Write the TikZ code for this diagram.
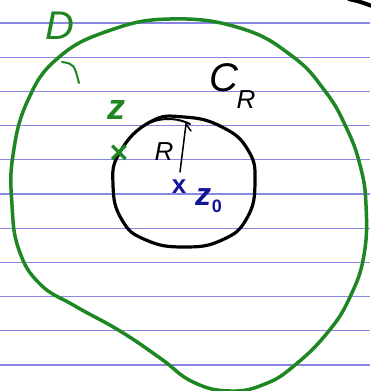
\documentclass[tikz,border=0pt]{standalone}
\usepackage{fontspec}
\setmainfont{Liberation Sans}
\definecolor{penGreen}{RGB}{30,135,35}
\definecolor{penBlue}{RGB}{20,20,150}
\definecolor{ruleBlue}{RGB}{135,135,225}
\tikzset{
  ruling/.style={ruleBlue, line width=1.2pt},
  greenpen/.style={penGreen, line width=3.5pt, line cap=round, line join=round},
  blackpen/.style={black, line width=3.2pt, line cap=round, line join=round},
  thinpen/.style={black, line width=1.5pt, line cap=round},
  lbl/.style={inner sep=0pt, font=\fontsize{40}{40}\selectfont\itshape}
}
\begin{document}
\begin{tikzpicture}[x=1pt,y=-1pt]
\useasboundingbox (0,0) rectangle (370,391);
\fill[white] (0,0) rectangle (370,391);
% ruled lines
\foreach \yy in {23,57.2,91.4,125.6,159.8,194,228.2,262.4,296.6,330.8,365}
  \draw[ruling] (0,\yy) -- (370,\yy);
% black fragment at top right corner
\draw[black, line width=4pt] (348,-1) .. controls (358,1) .. (372,6);
% outer region D
\draw[greenpen] plot[smooth cycle, tension=0.75] coordinates {
  (170,19) (240,28) (292,56) (325,91) (346,127) (360,165) (366,205)
  (364,255) (350,297) (328,332) (295,365) (265,384) (230,391) (193,382)
  (160,358) (120,331) (75,306) (40,284) (19,250) (12,205) (13,155)
  (28,100) (58,58) (108,31)};
% small tick on D boundary
\draw[greenpen, line width=2pt] (62,62) .. controls (74,64) .. (79,83);
% inner circle C_R
\draw[blackpen] plot[smooth cycle, tension=0.8] coordinates {
  (150,122) (184,117) (222,127) (248,150) (255,182) (247,218) (222,240)
  (184,247) (146,240) (122,220) (113,185) (120,152)};
\draw[blackpen, line width=2pt] (143,126) .. controls (160,116) and (178,118) .. (190,124);
% radius
\draw[thinpen] (180,172) -- (186,124) -- (191,131);
% labels
\node[lbl, penGreen] (labD) at (60,26) {D};
\node[lbl, black] (labC) at (224,78) {C};
\node[lbl, black, font=\fontsize{26}{26}\selectfont\itshape] (labCR) at (246,100) {R};
\node[lbl, black, font=\fontsize{26}{26}\selectfont\itshape] (labR) at (164,152) {R};
\node[lbl, penGreen, font=\fontsize{36}{36}\selectfont\bfseries\itshape] (labz) at (116,110) {z};
\node[lbl, penGreen, font=\fontsize{32}{32}\selectfont\bfseries] (markz) at (119,154) {×};
\node[lbl, penBlue, font=\fontsize{26}{26}\selectfont\bfseries] (markx) at (179,187) {x};
\node[lbl, penBlue, font=\fontsize{32}{32}\selectfont\bfseries\itshape] (labz0) at (203,197) {z};
\node[lbl, penBlue, font=\fontsize{18}{18}\selectfont\bfseries] (labz0s) at (217,206) {0};
\end{tikzpicture}
\end{document}
